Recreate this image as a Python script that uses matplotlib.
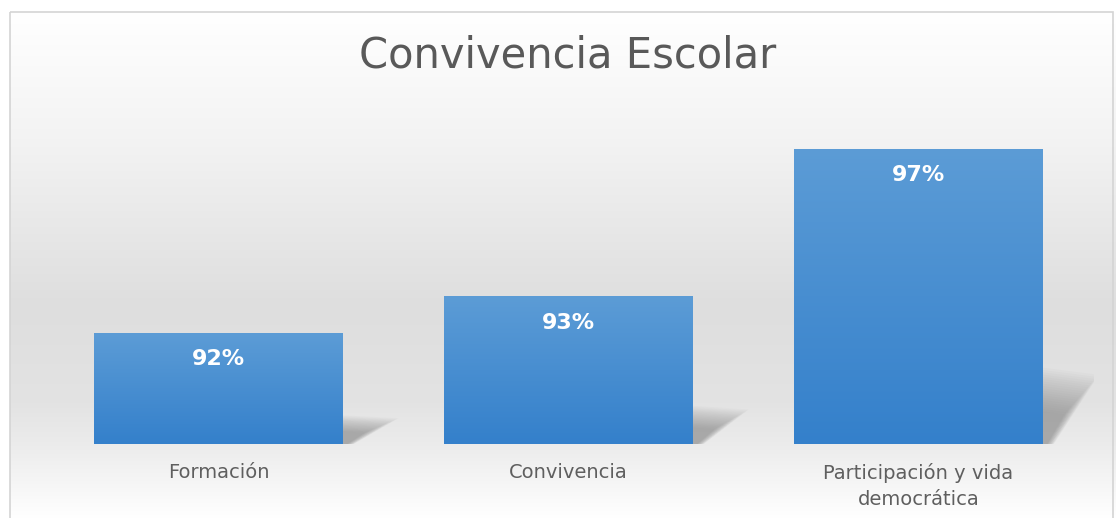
import numpy as np
import matplotlib.pyplot as plt
from matplotlib.patches import Rectangle, Polygon
from matplotlib.colors import LinearSegmentedColormap

# data
categories = ['Formación', 'Convivencia', 'Participación y vida\ndemocrática']
values = [92, 93, 97]
labels = ['92%', '93%', '97%']

W, H = 1116, 518
fig = plt.figure(figsize=(W / 100, H / 100), dpi=100)

# background gradient (chart area)
bg = fig.add_axes([0, 0, 1, 1], zorder=0)
bg.set_xlim(0, W)
bg.set_ylim(H, 0)
bg.axis('off')
ys = np.array([0, 12, 130, 300, 400, 444, 518])
gs = np.array([255, 254, 243, 222, 227, 236, 255]) / 255
col = np.interp(np.arange(H), ys, gs)
img = np.repeat(col[:, None], 2, axis=1)
bg.imshow(np.dstack([img, img, img]), extent=[10, W, H, 12], aspect='auto')
bg.add_patch(Rectangle((10, 12), W - 13, H, fill=False, ec='#d4d4d4', lw=1.2))

# main axes
ax = fig.add_axes([43.5 / W, (H - 444) / H, 1050 / W, (444 - 12) / H], zorder=1)
ax.set_facecolor('none')
x = np.arange(len(values))
ymin, ymax = 89, 100.7
bw = 0.71

blue = LinearSegmentedColormap.from_list('b', ['#5c9cd6', '#3480cb'])
grad = np.linspace(0, 1, 256)[:, None]

for xi, v, lab in zip(x, values, labels):
    # soft shadow
    h = v - ymin
    xr = xi + bw / 2
    for k in range(20):
        t = k / 20
        dx = 0.16 * (1 - 0.65 * t)
        dy = h * 0.26 * (1 - 0.6 * t)
        poly = Polygon([(xr - 0.01, ymin), (xr - 0.01, ymin + dy),
                        (xr + dx, ymin + dy * 0.9), (xr + dx * 0.2, ymin)],
                       closed=True, fc='#6e6e6e', ec='none', alpha=0.032, zorder=1)
        ax.add_patch(poly)
    bar = ax.bar(xi, h, bottom=ymin, width=bw, color='none', zorder=2)[0]
    im = ax.imshow(grad, cmap=blue, aspect='auto', zorder=2,
                   extent=[xi - bw / 2, xi + bw / 2, ymin, v])
    im.set_clip_path(bar)
    ax.text(xi, v - 0.71, lab, ha='center', va='center', color='white',
            fontsize=16, fontweight='bold', family='DejaVu Sans', zorder=3)

ax.set_xlim(-0.5, 2.5)
ax.set_ylim(ymin, ymax)
ax.set_xticks(x)
ax.set_xticklabels(categories, fontsize=14, color='#5f5f5f', family='DejaVu Sans',
                   linespacing=1.45)
ax.tick_params(axis='x', length=0, pad=14)
ax.set_yticks([])
for s in ax.spines.values():
    s.set_visible(False)

fig.text(568 / W, 1 - 55 / H, 'Convivencia Escolar', ha='center', va='center',
         fontsize=30, color='#595959', family='DejaVu Sans')

plt.savefig('out.png', dpi=100)
